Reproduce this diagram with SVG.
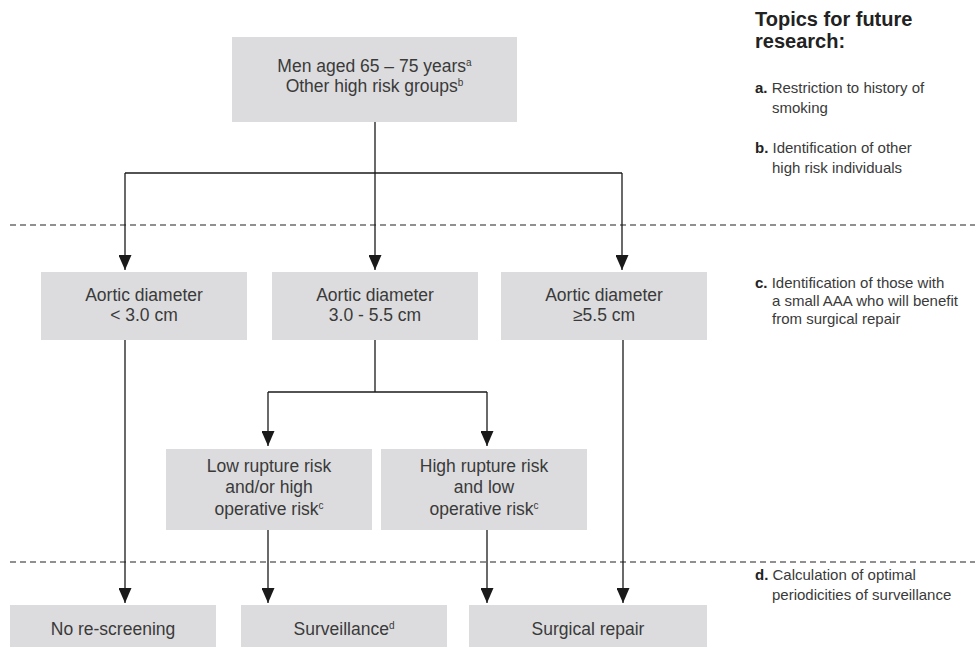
<svg xmlns="http://www.w3.org/2000/svg" width="975" height="647" viewBox="0 0 975 647">
<defs>
<marker id="arr" viewBox="0 0 15 13" refX="15" refY="6.5" markerWidth="15" markerHeight="13" markerUnits="userSpaceOnUse" orient="auto">
<path d="M0,0 L15,6.5 L0,13 Z" fill="#1a1a1a"/>
</marker>
</defs>
<style>
.box{fill:#dcdcde}
.t{font-family:"Liberation Sans",Arial,sans-serif;font-size:17.5px;fill:#3a3a3a;text-anchor:middle}
.sup{font-size:10px}
.n{font-family:"Liberation Sans",Arial,sans-serif;font-size:15px;fill:#3a3a3a}
.nb{font-weight:bold;fill:#222}
.h{font-family:"Liberation Sans",Arial,sans-serif;font-size:20px;font-weight:bold;fill:#222}
.c{fill:none;stroke:#1a1a1a;stroke-width:1.3}
.a{marker-end:url(#arr)}
.d{fill:none;stroke:#222;stroke-width:1.2;stroke-dasharray:6 4}
</style>
<rect width="975" height="647" fill="#fff"/>
<g id="dividers">
<line class="d" x1="10" y1="225" x2="975" y2="225"/>
<line class="d" x1="10" y1="562" x2="975" y2="562"/>
</g>
<g id="connectors">
<path class="c" d="M375,122 V173"/>
<path class="c" d="M125,173 H622"/>
<path class="c a" d="M125,173 V270"/>
<path class="c a" d="M375,173 V270"/>
<path class="c a" d="M622,173 V270"/>
<path class="c" d="M375,340 V392"/>
<path class="c" d="M268,392 H487"/>
<path class="c a" d="M268,392 V446"/>
<path class="c a" d="M487,392 V446"/>
<path class="c a" d="M125,340 V603"/>
<path class="c a" d="M268,530 V603"/>
<path class="c a" d="M487,530 V603"/>
<path class="c a" d="M623,340 V603"/>
</g>
<g id="n-top">
<rect class="box" x="232" y="37" width="285" height="85"/>
<text class="t" x="374.5" y="72">Men aged 65 – 75 years<tspan class="sup" dy="-6">a</tspan></text>
<text class="t" x="374.5" y="92">Other high risk groups<tspan class="sup" dy="-6">b</tspan></text>
</g>
<g id="n-lt3">
<rect class="box" x="41" y="272" width="206" height="68"/>
<text class="t" x="144" y="301">Aortic diameter</text>
<text class="t" x="144" y="321">&lt; 3.0 cm</text>
</g>
<g id="n-mid">
<rect class="box" x="272" y="272" width="206" height="68"/>
<text class="t" x="375" y="301">Aortic diameter</text>
<text class="t" x="375" y="321">3.0 - 5.5 cm</text>
</g>
<g id="n-ge55">
<rect class="box" x="501" y="272" width="206" height="68"/>
<text class="t" x="604" y="301">Aortic diameter</text>
<text class="t" x="604" y="321">≥5.5 cm</text>
</g>
<g id="n-low">
<rect class="box" x="166" y="449" width="206" height="81"/>
<text class="t" x="269" y="472">Low rupture risk</text>
<text class="t" x="269" y="493">and/or high</text>
<text class="t" x="269" y="515">operative risk<tspan class="sup" dy="-6">c</tspan></text>
</g>
<g id="n-high">
<rect class="box" x="381" y="449" width="206" height="81"/>
<text class="t" x="484" y="472">High rupture risk</text>
<text class="t" x="484" y="493">and low</text>
<text class="t" x="484" y="515">operative risk<tspan class="sup" dy="-6">c</tspan></text>
</g>
<g id="n-norescreen">
<rect class="box" x="10" y="605" width="206" height="42"/>
<text class="t" x="113" y="635">No re-screening</text>
</g>
<g id="n-surv">
<rect class="box" x="241" y="605" width="206" height="42"/>
<text class="t" x="344" y="635">Surveillance<tspan class="sup" dy="-6">d</tspan></text>
</g>
<g id="n-surg">
<rect class="box" x="469" y="605" width="238" height="42"/>
<text class="t" x="588" y="635">Surgical repair</text>
</g>
<g id="notes">
<text class="h" x="755" y="26">Topics for future</text>
<text class="h" x="755" y="48">research:</text>
<text class="n" x="755" y="93"><tspan class="nb">a.</tspan> Restriction to history of</text>
<text class="n" x="772" y="113">smoking</text>
<text class="n" x="755" y="153"><tspan class="nb">b.</tspan> Identification of other</text>
<text class="n" x="772" y="173">high risk individuals</text>
<text class="n" x="755" y="288"><tspan class="nb">c.</tspan> Identification of those with</text>
<text class="n" x="772" y="306">a small AAA who will benefit</text>
<text class="n" x="772" y="324">from surgical repair</text>
<text class="n" x="755" y="580"><tspan class="nb">d.</tspan> Calculation of optimal</text>
<text class="n" x="772" y="600">periodicities of surveillance</text>
</g>
</svg>
